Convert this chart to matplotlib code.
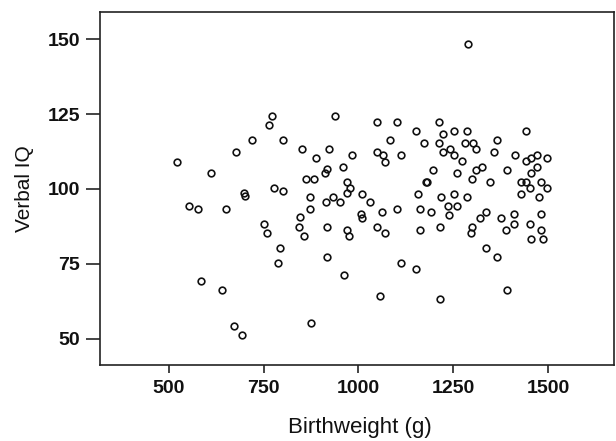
import matplotlib
matplotlib.use("Agg")
import matplotlib.pyplot as plt

plt.rcParams['font.family'] = ['Liberation Sans', 'DejaVu Sans']

birthweight = [
    521, 552, 577, 585, 612, 641, 651, 671, 678, 694, 698, 702, 718, 752, 758,
    764, 772, 778, 787, 793, 802, 802, 845, 843, 852, 857, 861, 871, 871, 876,
    883, 888, 912, 914, 916, 917, 918, 921, 932, 938, 951, 958, 961, 969, 969,
    969, 975, 977, 982, 1008, 1010, 1010, 1031, 1049, 1050, 1050, 1057, 1061,
    1066, 1069, 1071, 1083, 1101, 1102, 1111, 1113, 1151, 1153, 1157, 1162,
    1162, 1172, 1177, 1181, 1192, 1197, 1213, 1213, 1215, 1215, 1217, 1222,
    1223, 1237, 1239, 1241, 1251, 1251, 1251, 1261, 1261, 1272, 1280, 1287,
    1287, 1288, 1297, 1300, 1300, 1302, 1309, 1311, 1321, 1327, 1337, 1337,
    1347, 1357, 1366, 1366, 1376, 1390, 1392, 1392, 1410, 1410, 1412, 1430,
    1430, 1441, 1441, 1441, 1452, 1452, 1456, 1456, 1456, 1472, 1472, 1476,
    1481, 1481, 1481, 1486, 1497, 1497,
]
verbal_iq = [
    109.1, 94.3, 93.2, 69.3, 105.2, 66.3, 93.3, 54.3, 112.3, 51.2, 98.6, 97.7,
    116.2, 88.4, 85.3, 121.3, 124.3, 100.3, 75.3, 80.3, 116.2, 99.4, 90.5, 87.4,
    113.3, 84.3, 103.2, 97.4, 93.3, 55.2, 103.2, 110.2, 105.3, 95.5, 87.3, 77.2,
    106.6, 113.3, 97.4, 124.3, 95.5, 107.3, 71.2, 102.3, 98.5, 86.3, 84.3, 100.5,
    111.3, 91.6, 90.3, 98.4, 95.5, 122.3, 112.4, 87.3, 64.3, 92.3, 111.3, 109.1,
    85.3, 116.3, 93.3, 122.3, 75.3, 111.3, 73.3, 119.3, 98.3, 93.3, 86.3, 115.3,
    102.3, 102.3, 92.3, 106.3, 122.3, 115.3, 87.3, 63.3, 97.3, 112.3, 118.3,
    94.4, 91.3, 113.3, 119.3, 111.3, 98.3, 105.3, 94.4, 109.3, 115.3, 119.3,
    97.3, 148.4, 85.3, 87.3, 103.3, 115.3, 113.3, 106.3, 90.3, 107.3, 92.3, 80.3,
    102.3, 112.3, 116.3, 77.3, 90.4, 86.3, 106.3, 66.4, 91.5, 88.4, 111.3, 102.3,
    98.3, 119.3, 109.3, 102.3, 100.4, 88.4, 110.2, 105.3, 83.4, 111.3, 107.3,
    97.3, 102.3, 91.5, 86.3, 83.3, 110.3, 100.4,
]

x_ticks = [500, 750, 1000, 1250, 1500]
y_ticks = [50, 75, 100, 125, 150]

fig = plt.figure(figsize=(6.16, 4.41), dpi=100)
ax = fig.add_axes([99.5 / 616, 1 - 365 / 441, (614 - 99.5) / 616, (365 - 11.5) / 441])

ax.plot(birthweight, verbal_iq, linestyle='none', marker='o', markersize=4.8,
        markerfacecolor='none', markeredgecolor='#111111', markeredgewidth=1.2)

ax.set_xlim(317, 1674)
ax.set_ylim(41.3, 159.2)
ax.set_xticks(x_ticks)
ax.set_yticks(y_ticks)
for lab in ax.get_xticklabels() + ax.get_yticklabels():
    lab.set_fontweight('bold')
    lab.set_fontsize(14)
    lab.set_color('#111111')

ax.tick_params(axis='x', length=6, width=1.1, pad=5, colors='#111111')
ax.tick_params(axis='y', length=10, width=1.1, pad=4, colors='#111111')
for sp in ax.spines.values():
    sp.set_linewidth(1.2)
    sp.set_color('#222222')

ax.set_xlabel('Birthweight (g)', fontsize=16, color='#111111')
ax.set_ylabel('Verbal IQ', fontsize=15, color='#111111')
ax.xaxis.set_label_coords((360 - 99.5) / 514.5, (365 - 427) / 353.5)
ax.xaxis.label.set_va('center')
ax.yaxis.set_label_coords((25 - 99.5) / 514.5, (365 - 189) / 353.5)
ax.yaxis.label.set_va('center')

fig.savefig('out.png', dpi=100)
